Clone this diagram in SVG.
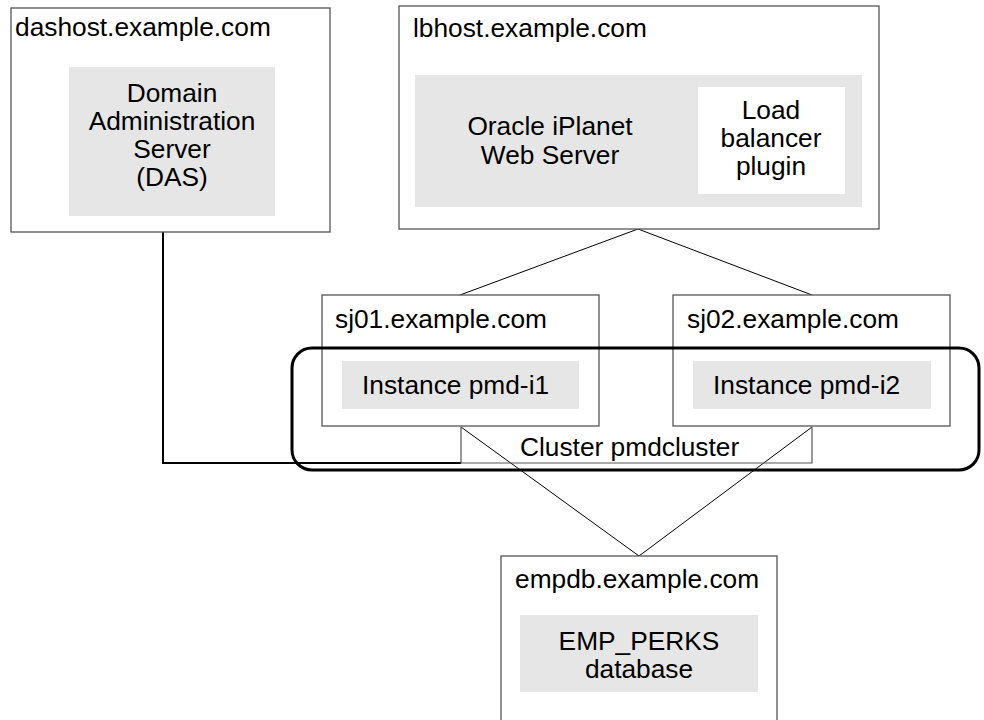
<svg xmlns="http://www.w3.org/2000/svg" width="984" height="720" viewBox="0 0 984 720">
<style>
.box{fill:#fff;stroke:#555;stroke-width:1.3}
.inner{fill:#e6e6e6;stroke:none}
.white{fill:#fff;stroke:none}
text{font-family:"Liberation Sans",Arial,sans-serif;font-size:26.3px;fill:#000}
.c{text-anchor:middle}
.ln{fill:none;stroke:#000;stroke-width:1}
.thick{fill:none;stroke:#000;stroke-width:2}
.lbl{fill:none;stroke:#555;stroke-width:1.2}
</style>
<rect width="984" height="720" fill="#fff"/>
<g id="connectors">
<polyline class="thick" points="163,232 163,463 461,463"/>
<polyline class="ln" points="460,295 638,229 812,295"/>
<polyline class="ln" points="461,427 639,556 812,427"/>
</g>
<g id="dashost">
<rect class="box" x="11" y="8" width="319" height="224"/>
<text x="15" y="36">dashost.example.com</text>
<rect class="inner" x="69" y="67" width="206" height="149"/>
<text class="c" x="172" y="102">Domain</text>
<text class="c" x="172" y="130">Administration</text>
<text class="c" x="172" y="158">Server</text>
<text class="c" x="172" y="186">(DAS)</text>
</g>
<g id="lbhost">
<rect class="box" x="399" y="6" width="480" height="223"/>
<text x="413" y="37">lbhost.example.com</text>
<rect class="inner" x="415" y="75" width="447" height="132"/>
<text class="c" x="550" y="135">Oracle iPlanet</text>
<text class="c" x="550" y="164">Web Server</text>
<rect class="white" x="698" y="87" width="147" height="107"/>
<text class="c" x="771" y="119">Load</text>
<text class="c" x="771" y="147">balancer</text>
<text class="c" x="771" y="175">plugin</text>
</g>
<g id="sj01">
<rect class="box" x="322" y="295" width="277" height="131"/>
<text x="335" y="328">sj01.example.com</text>
<rect class="inner" x="342" y="361" width="237" height="48"/>
<text x="362" y="394">Instance pmd-i1</text>
</g>
<g id="sj02">
<rect class="box" x="673" y="295" width="277" height="131"/>
<text x="687" y="328">sj02.example.com</text>
<rect class="inner" x="693" y="361" width="238" height="48"/>
<text x="713" y="394">Instance pmd-i2</text>
</g>
<g id="cluster">
<polyline class="lbl" points="461,427 461,463 812,463 812,427"/>
<text x="520" y="456">Cluster pmdcluster</text>
<rect x="292" y="348" width="687" height="122" rx="20" ry="20" fill="none" stroke="#000" stroke-width="3"/>
</g>
<g id="empdb">
<rect class="box" x="501" y="556" width="276" height="180"/>
<text x="515" y="588">empdb.example.com</text>
<rect class="inner" x="520" y="615" width="238" height="77"/>
<text class="c" x="639" y="650">EMP_PERKS</text>
<text class="c" x="639" y="678">database</text>
</g>
</svg>
